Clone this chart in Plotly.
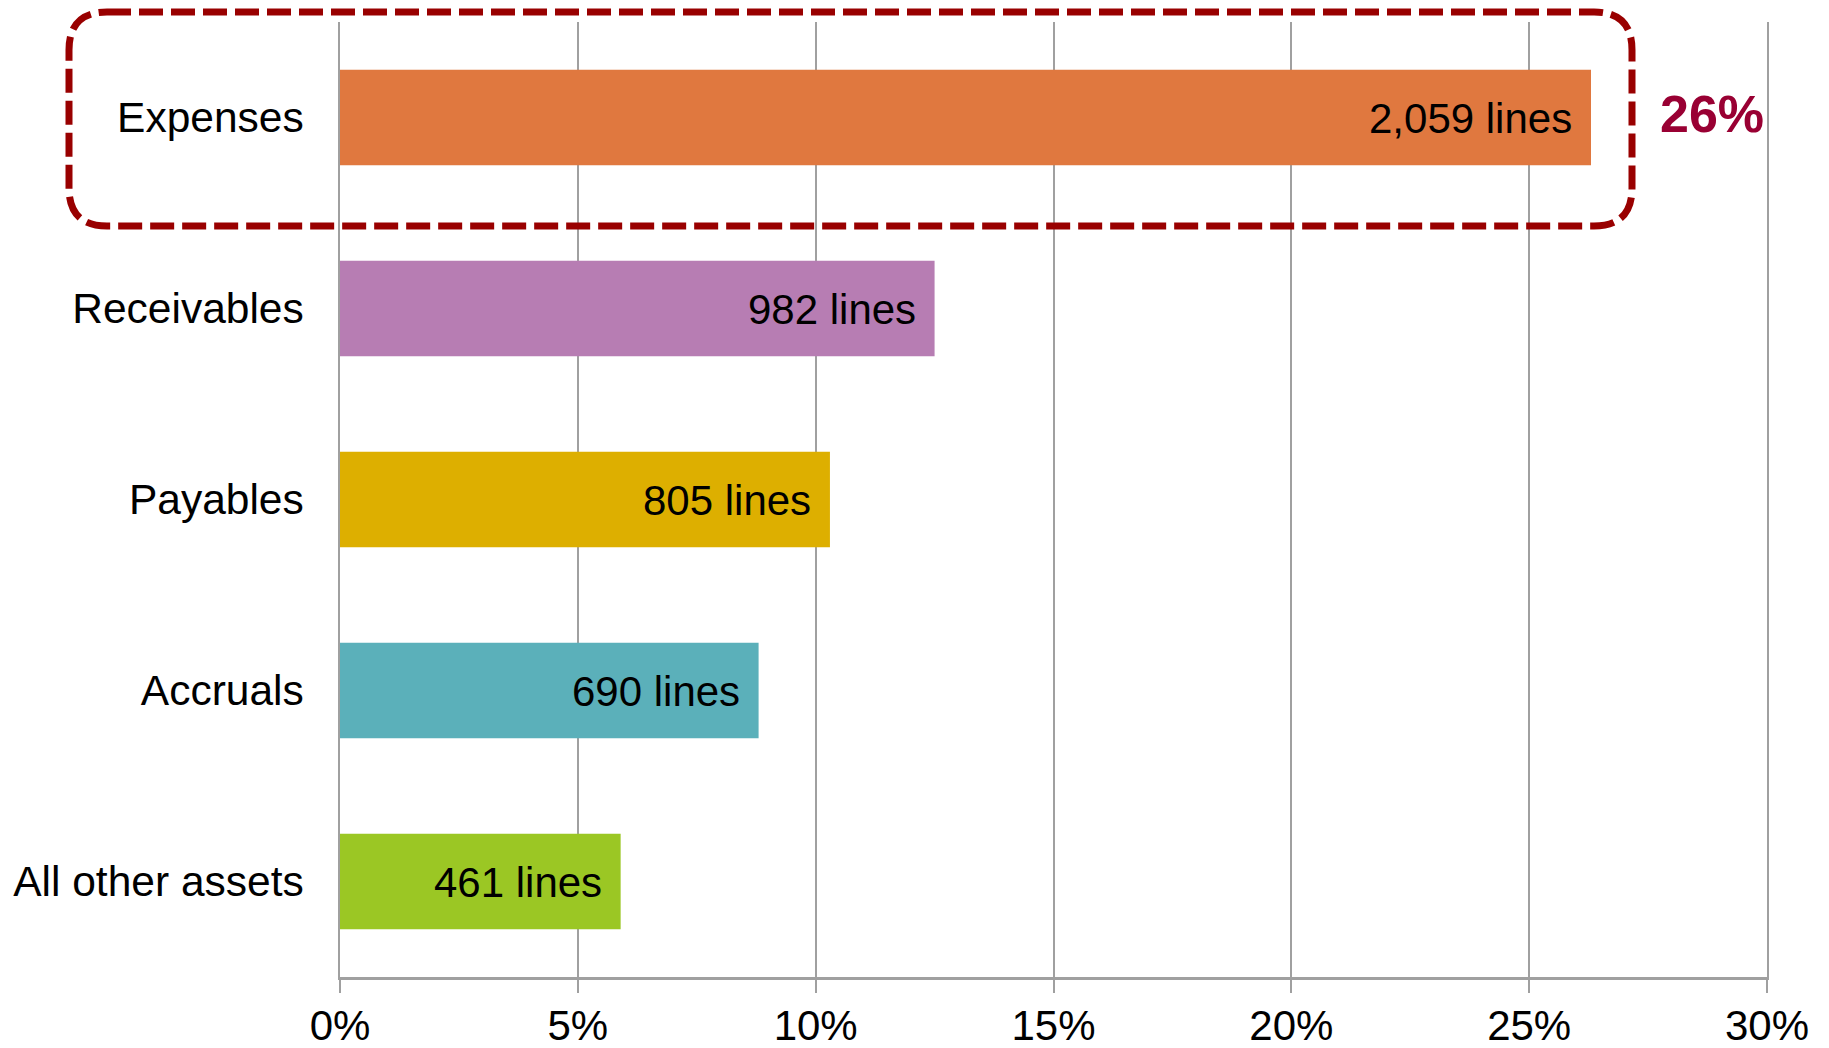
import plotly.graph_objects as go

categories = ["Expenses", "Receivables", "Payables", "Accruals", "All other assets"]
shares_pct = [26.3, 12.5, 10.3, 8.8, 5.9]
line_counts = ["2,059", "982", "805", "690", "461"]
bar_colors = ["#E0783F", "#B77DB3", "#DDAF00", "#5BB0BA", "#9BC724"]
x_ticks = [0, 5, 10, 15, 20, 25, 30]
highlight_label = "26%"

W, H = 1829, 1048
ML, MR, MT, MB = 340, 62, 22, 71
FONT = "Liberation Sans, Arial, sans-serif"
GRID = "#A0A0A0"

fig = go.Figure()
fig.add_trace(go.Bar(
    y=categories, x=shares_pct, orientation="h",
    marker=dict(color=bar_colors, line=dict(width=0)),
    width=0.5, hoverinfo="skip",
))

for cat, v, n in zip(categories, shares_pct, line_counts):
    fig.add_annotation(x=v, y=cat, xref="x", yref="y", text=f"{n} lines",
                       showarrow=False, xanchor="right", yanchor="middle",
                       xshift=-17, yshift=-1, font=dict(family=FONT, size=42, color="black"))

# highlight value label
fig.add_annotation(x=28.85, y=categories[0], xref="x", yref="y", text=f"<b>{highlight_label}</b>",
                   showarrow=False, xanchor="center", yanchor="middle", yshift=4,
                   font=dict(family=FONT, size=52, color="#990033"))

# rounded dashed highlight box (pixel -> paper conversion)
pw = W - ML - MR
ph = H - MT - MB
def px(xp): return (xp - ML) / pw
def py(yp): return (H - MB - yp) / ph
x0, x1, y0, y1, r = 69, 1632, 12, 226, 38
path = (f"M {px(x0 + r)},{py(y0)} L {px(x1 - r)},{py(y0)} "
        f"Q {px(x1)},{py(y0)} {px(x1)},{py(y0 + r)} "
        f"L {px(x1)},{py(y1 - r)} Q {px(x1)},{py(y1)} {px(x1 - r)},{py(y1)} "
        f"L {px(x0 + r)},{py(y1)} Q {px(x0)},{py(y1)} {px(x0)},{py(y1 - r)} "
        f"L {px(x0)},{py(y0 + r)} Q {px(x0)},{py(y0)} {px(x0 + r)},{py(y0)} Z")
fig.add_shape(type="path", path=path, xref="paper", yref="paper",
              line=dict(color="#990000", width=7, dash="24px,8px"))

fig.update_layout(
    width=W, height=H,
    margin=dict(l=ML, r=MR, t=MT, b=MB, pad=0),
    paper_bgcolor="white", plot_bgcolor="white",
    showlegend=False,
    font=dict(family=FONT, size=42, color="black"),
    xaxis=dict(range=[0, 30], tickvals=x_ticks, ticktext=[f"{t}%" for t in x_ticks],
               showgrid=True, gridcolor=GRID, gridwidth=1.5,
               zeroline=False, showline=True, linecolor=GRID, linewidth=2.5,
               ticks="outside", ticklen=13, tickcolor=GRID, tickwidth=1.5,
               ticklabelstandoff=-3, automargin=False,
               tickfont=dict(family=FONT, size=42, color="black")),
    yaxis=dict(categoryorder="array", categoryarray=categories, autorange="reversed",
               showgrid=False, zeroline=False, showline=True, mirror=True,
               linecolor=GRID, linewidth=1.5, ticks="",
               ticklabelstandoff=26, automargin=False,
               tickfont=dict(family=FONT, size=42.5, color="black")),
)

fig.write_html("out.html")
